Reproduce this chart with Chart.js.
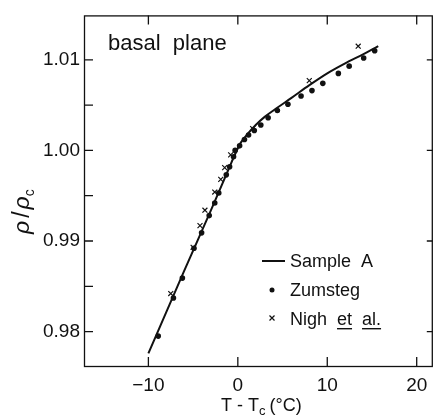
<!DOCTYPE html>
<html>
<head>
<meta charset="utf-8">
<script src="https://cdn.jsdelivr.net/npm/chart.js@4"></script>
<style>
  body { margin: 0; background: #fff; }
</style>
</head>
<body>
<canvas id="myChart" width="438" height="416"></canvas>
<script>
const ctx = document.getElementById('myChart');

// Sample A (solid curve)
const sampleT = [-10, -6, -3, -1, -0.3, 0.3, 1, 2, 3, 4.4, 6, 8, 10, 12, 14, 15.7];
const sampleRho = [0.9776, 0.9867, 0.9934, 0.9980, 0.9996, 1.0008, 1.0017, 1.0028, 1.0037, 1.0047, 1.0058, 1.0072, 1.0085, 1.0096, 1.0106, 1.0115];

// Zumsteg (dots)
const zumT = [-8.9, -7.2, -6.2, -4.9, -4.05, -3.2, -2.58, -2.13, -1.29, -0.92, -0.48, -0.3, 0.2, 0.74, 1.2, 1.84, 2.57, 3.39, 4.42, 5.6, 7.07, 8.29, 9.5, 11.24, 12.45, 14.07, 15.3];
const zumRho = [0.9795, 0.9837, 0.9859, 0.9892, 0.9909, 0.9928, 0.9942, 0.9953, 0.9973, 0.9982, 0.9993, 1.0000, 1.0005, 1.0012, 1.0017, 1.0022, 1.0028, 1.0036, 1.0044, 1.0051, 1.0060, 1.0066, 1.0074, 1.0085, 1.0093, 1.0102, 1.0110];

// Nigh et al. (crosses)
const nighT = [-7.5, -5.0, -4.23, -3.68, -2.58, -1.91, -1.47, -0.8, 1.66, 7.99, 13.46];
const nighRho = [0.9842, 0.9893, 0.9917, 0.9934, 0.9954, 0.9968, 0.9981, 0.9995, 1.0024, 1.0077, 1.0115];

const xMajor = [-10, 0, 10, 20];
const yMajor = [0.98, 0.99, 1.00, 1.01];
const yMinor = [0.985, 0.995, 1.005];

const toPts = (xs, ys) => xs.map((x, i) => ({ x: x, y: ys[i] }));
const FONT = "'Liberation Sans', Arial, sans-serif";

const framePlugin = {
    id: 'frame',
    afterDraw(chart) {
        const c = chart.ctx;
        const a = chart.chartArea;
        const xs = chart.scales.x, ys = chart.scales.y;
        const L = 9;
        c.save();
        c.strokeStyle = '#111';
        c.lineWidth = 1.3;
        c.strokeRect(a.left + 0.5, a.top + 0.5, a.right - a.left - 1, a.bottom - a.top);
        c.beginPath();
        xMajor.forEach(v => {
            const px = xs.getPixelForValue(v);
            c.moveTo(px, a.bottom); c.lineTo(px, a.bottom - L);
            c.moveTo(px, a.top); c.lineTo(px, a.top + L);
        });
        yMajor.concat(yMinor).forEach(v => {
            const py = ys.getPixelForValue(v);
            c.moveTo(a.left, py); c.lineTo(a.left + L, py);
        });
        yMajor.forEach(v => {
            const py = ys.getPixelForValue(v);
            c.moveTo(a.right, py); c.lineTo(a.right - 6, py);
        });
        c.stroke();

        // text
        c.fillStyle = '#111';
        c.textBaseline = 'alphabetic';
        c.textAlign = 'left';
        c.font = '22px ' + FONT;
        c.fillText('basal  plane', 108, 50);

        // x title: T - Tc (°C)
        c.font = '18px ' + FONT;
        let x = 221;
        const yb = 411;
        c.fillText('T - T', x, yb);
        x += c.measureText('T - T').width;
        c.font = '13px ' + FONT;
        c.fillText('c', x, yb + 4);
        x += c.measureText('c').width + 4;
        c.font = '18px ' + FONT;
        c.fillText('(°C)', x, yb);

        // y title: rho / rho_c
        c.save();
        c.translate(29, 207);
        c.rotate(-Math.PI / 2);
        c.font = 'italic 23px ' + FONT;
        let t = -27;
        c.fillText('ρ', t, 0);
        t += c.measureText('ρ').width + 3;
        c.font = '23px ' + FONT;
        c.fillText('/', t, 0);
        t += c.measureText('/').width + 2;
        c.font = 'italic 23px ' + FONT;
        c.fillText('ρ', t, 0);
        t += c.measureText('ρ').width;
        c.font = '14px ' + FONT;
        c.fillText('c', t, 5);
        c.restore();

        // legend
        c.font = '18px ' + FONT;
        c.lineWidth = 2;
        c.beginPath();
        c.moveTo(262, 261); c.lineTo(285, 261);
        c.stroke();
        c.fillText('Sample  A', 290, 267);

        c.beginPath();
        c.arc(272, 290, 2.5, 0, Math.PI * 2);
        c.fill();
        c.fillText('Zumsteg', 290, 296);

        c.lineWidth = 1.2;
        c.beginPath();
        c.moveTo(269.5, 315.5); c.lineTo(274.5, 320.5);
        c.moveTo(274.5, 315.5); c.lineTo(269.5, 320.5);
        c.stroke();
        let lx = 290;
        const lb = 325;
        c.fillText('Nigh ', lx, lb);
        lx += c.measureText('Nigh  ').width;
        const wEt = c.measureText('et').width;
        c.fillText('et', lx, lb);
        c.fillRect(lx, lb + 3, wEt, 1.4);
        lx += wEt + c.measureText('  ').width;
        const wAl = c.measureText('al.').width;
        c.fillText('al.', lx, lb);
        c.fillRect(lx, lb + 3, wAl, 1.4);
        c.restore();
    }
};

new Chart(ctx, {
    type: 'scatter',
    data: {
        datasets: [
            {
                label: 'Sample A',
                data: toPts(sampleT, sampleRho),
                showLine: true,
                borderColor: '#111',
                borderWidth: 2,
                pointRadius: 0,
                cubicInterpolationMode: 'monotone',
                fill: false
            },
            {
                label: 'Zumsteg',
                data: toPts(zumT, zumRho),
                pointStyle: 'circle',
                pointRadius: 2.8,
                backgroundColor: '#111',
                borderColor: '#111',
                borderWidth: 0
            },
            {
                label: 'Nigh et al.',
                data: toPts(nighT, nighRho),
                pointStyle: 'crossRot',
                pointRadius: 3.5,
                borderColor: '#111',
                borderWidth: 1.2
            }
        ]
    },
    options: {
        responsive: false,
        animation: false,
        layout: { padding: { top: 12, right: 1, left: 0, bottom: 0 } },
        plugins: {
            legend: { display: false },
            tooltip: { enabled: false }
        },
        scales: {
            x: {
                type: 'linear',
                min: -17.2,
                max: 21.8,
                afterFit: s => { s.height = 50; },
                grid: { display: false, drawTicks: false },
                border: { display: false },
                ticks: {
                    includeBounds: false,
                    stepSize: 10,
                    padding: 8,
                    color: '#111',
                    font: { family: FONT, size: 19 },
                    callback: v => v < 0 ? '\u2212' + Math.abs(v) : String(v)
                }
            },
            y: {
                type: 'linear',
                min: 0.9762,
                max: 1.0149,
                afterFit: s => { s.width = 84; },
                grid: { display: false, drawTicks: false },
                border: { display: false },
                ticks: {
                    includeBounds: false,
                    stepSize: 0.01,
                    padding: 4,
                    color: '#111',
                    font: { family: FONT, size: 19 },
                    callback: v => v.toFixed(2)
                }
            }
        }
    },
    plugins: [framePlugin]
});
</script>
</body>
</html>
